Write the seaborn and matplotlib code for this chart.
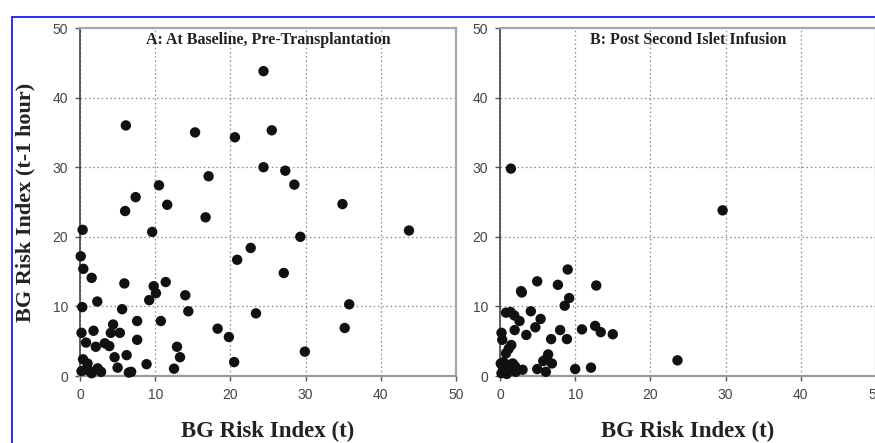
import matplotlib
matplotlib.use("Agg")
import matplotlib.pyplot as plt
from matplotlib.lines import Line2D
import seaborn as sns
import pandas as pd

# Panel A: at baseline, pre-transplantation
base_risk_t = [24.4, 6.1, 15.3, 20.6, 25.5, 24.4, 27.3, 17.1, 28.5, 10.5,
               7.4, 11.6, 6.0, 16.7, 34.9, 0.35, 9.6, 43.75, 29.3, 22.7,
               20.9, 0.1, 0.44, 1.55, 27.1, 5.9, 11.4, 9.8, 10.1, 14.0,
               9.2, 2.3, 35.8, 0.3, 5.6, 14.4, 23.4, 7.6, 10.75, 4.4,
               18.3, 35.2, 0.2, 1.8, 4.1, 5.3, 19.8, 7.6, 0.8, 3.3,
               3.9, 2.1, 12.9, 29.9, 6.2, 13.3, 4.6, 0.4, 1.0, 8.85,
               20.5, 5.0, 12.5, 2.35, 0.8, 1.3, 2.8, 1.55, 6.5, 6.8, 0.2]
base_risk_prev = [43.8, 36.0, 35.0, 34.3, 35.3, 30.0, 29.5, 28.7, 27.5, 27.4,
                  25.7, 24.6, 23.7, 22.8, 24.7, 21.0, 20.7, 20.9, 20.0, 18.4,
                  16.7, 17.2, 15.4, 14.1, 14.8, 13.3, 13.5, 12.9, 11.9, 11.6,
                  10.9, 10.7, 10.3, 9.9, 9.6, 9.3, 9.0, 7.9, 7.9, 7.4,
                  6.8, 6.9, 6.2, 6.5, 6.2, 6.2, 5.6, 5.2, 4.8, 4.7,
                  4.3, 4.2, 4.2, 3.5, 3.0, 2.7, 2.7, 2.4, 1.8, 1.7,
                  2.0, 1.2, 1.05, 1.1, 0.95, 0.7, 0.6, 0.4, 0.5, 0.6, 0.7]

# Panel B: after the second islet infusion
post_risk_t = [1.45, 29.6, 23.6, 9.0, 4.95, 7.7, 12.8, 2.8, 2.9, 9.2,
               8.6, 4.1, 0.8, 1.4, 1.9, 5.4, 2.6, 4.7, 12.65, 13.4,
               15.0, 10.9, 8.0, 1.95, 3.5, 0.2, 0.3, 6.8, 8.9, 1.5,
               1.15, 0.8, 6.4, 6.2, 6.9, 5.75, 4.95, 6.1, 10.0, 12.1,
               3.0, 0.1, 0.35, 0.65, 1.1, 1.55, 1.75, 2.1, 0.2, 0.9,
               1.3, 2.0, 0.45, 1.7]
post_risk_prev = [29.8, 23.8, 2.25, 15.3, 13.6, 13.1, 13.0, 12.2, 12.0, 11.2,
                  10.1, 9.3, 9.1, 9.2, 8.7, 8.2, 7.9, 7.0, 7.2, 6.3,
                  6.0, 6.7, 6.6, 6.6, 5.9, 6.2, 5.2, 5.3, 5.3, 4.45,
                  3.9, 3.25, 3.1, 2.5, 1.8, 2.15, 1.0, 0.6, 1.0, 1.2,
                  0.9, 1.8, 1.35, 0.85, 1.6, 1.35, 0.85, 0.6, 0.4, 0.3,
                  1.1, 1.4, 2.0, 1.8]

panel_titles = ["A: At Baseline, Pre-Transplantation", "B: Post Second Islet Infusion"]
tick_values = [0, 10, 20, 30, 40, 50]

sns.set_style("white")
plt.rcParams["font.family"] = ["Liberation Sans", "DejaVu Sans"]

fig = plt.figure(figsize=(8.75, 4.43), dpi=100)
W, H = 875, 443
ax_w = 376 / W
ax_h = 348 / H
ax_bottom = (H - 376) / H
axA = fig.add_axes([80 / W, ax_bottom, ax_w, ax_h])
axB = fig.add_axes([500 / W, ax_bottom, ax_w, ax_h])

frames = [
    pd.DataFrame({"risk_t": base_risk_t, "risk_prev": base_risk_prev}),
    pd.DataFrame({"risk_t": post_risk_t, "risk_prev": post_risk_prev}),
]

serif = ["Liberation Serif", "DejaVu Serif"]

for ax, df, title in zip([axA, axB], frames, panel_titles):
    sns.scatterplot(data=df, x="risk_t", y="risk_prev", ax=ax, s=56,
                    color="#111111", edgecolor="none", zorder=3, clip_on=False)
    ax.set_xlim(0, 50)
    ax.set_ylim(0, 50)
    ax.set_xticks(tick_values)
    ax.set_yticks(tick_values)
    ax.grid(True, color="#8a8a8a", linestyle=(0, (1.2, 2.2)), linewidth=0.9)
    ax.set_axisbelow(True)
    ax.tick_params(axis="both", labelsize=10, labelcolor="#444444",
                   color="#555555", length=3.5, width=1, direction="out",
                   bottom=True, left=True, pad=5)
    for side in ["top", "right"]:
        ax.spines[side].set_color("#a8a8a8")
        ax.spines[side].set_linewidth(1.6)
    ax.spines["left"].set_color("#444444")
    ax.spines["left"].set_linewidth(1.2)
    ax.spines["bottom"].set_color("#9a9a9a")
    ax.spines["bottom"].set_linewidth(1.6)
    ax.set_xlabel("")
    ax.set_ylabel("")
    ax.text(0.5, 0.965, title, transform=ax.transAxes, ha="center", va="center",
            fontsize=11.5, fontweight="bold", family=serif, color="#222222")

axA.set_ylabel("BG Risk Index (t-1 hour)", fontsize=16, fontweight="bold",
               family=serif, color="#222222", labelpad=12)
for ax in [axA, axB]:
    ax.set_xlabel("BG Risk Index (t)", fontsize=16.5, fontweight="bold",
                  family=serif, color="#222222", labelpad=14)

# thin blue frame around the figure panel
fig.add_artist(Line2D([12 / W, 1.0], [1 - 17 / H, 1 - 17 / H], color="#1a1aff",
                      linewidth=1.3, transform=fig.transFigure))
fig.add_artist(Line2D([12 / W, 12 / W], [0, 1 - 17 / H], color="#1a1aff",
                      linewidth=1.3, transform=fig.transFigure))

fig.savefig("out.png", dpi=100)
